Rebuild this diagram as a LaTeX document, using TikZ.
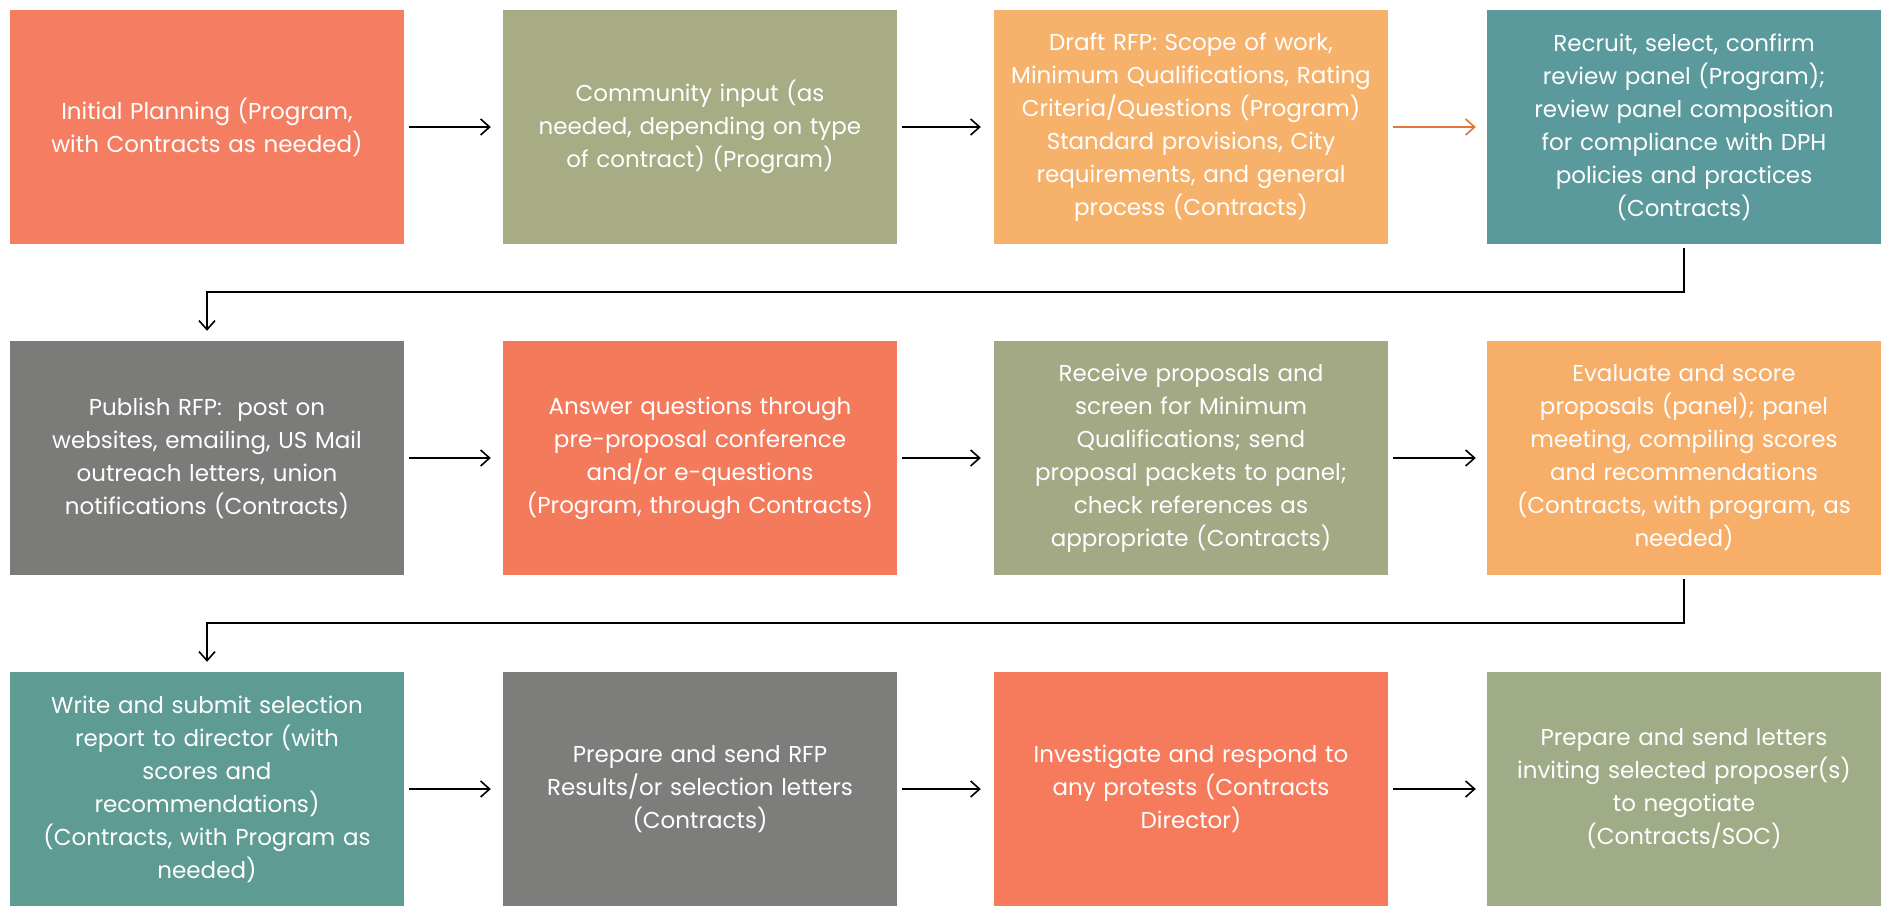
\documentclass[tikz,border=0pt]{standalone}
\usepackage{fontspec}
\setmainfont{Poppins}
\usetikzlibrary{arrows.meta}
\definecolor{cA}{HTML}{F57E62}
\definecolor{cB}{HTML}{A7AC85}
\definecolor{cC}{HTML}{F6B16B}
\definecolor{cD}{HTML}{5B9A9C}
\definecolor{cE}{HTML}{7B7B79}
\definecolor{cF}{HTML}{F47A5C}
\definecolor{cG}{HTML}{A4A985}
\definecolor{cH}{HTML}{F6AE68}
\definecolor{cI}{HTML}{5E9C93}
\definecolor{cJ}{HTML}{7D7D7B}
\definecolor{cK}{HTML}{F67B5D}
\definecolor{cL}{HTML}{A0AC87}
\definecolor{arrOrange}{HTML}{E0763A}
\tikzset{
  stepbox/.style={rectangle, minimum width=394pt, minimum height=234pt, inner sep=0pt,
    text=white, align=center, text width=392pt,
    font=\fontsize{23}{33}\selectfont},
  flow/.style={draw=black, line width=1.6pt, -{Straight Barb[length=9pt,width=16pt,line width=1.6pt]}},
}
\begin{document}
\begin{tikzpicture}[x=1pt,y=-1pt]
\useasboundingbox (0,0) rectangle (1887,906);
\fill[white] (0,0) rectangle (1887,906);
% row 1
\node[stepbox, fill=cA] (b1) at (207,127) {Initial Planning (Program,\\with Contracts as needed)};
\node[stepbox, fill=cB] (b2) at (700,127) {Community input (as\\needed, depending on type\\of contract) (Program)};
\node[stepbox, fill=cC] (b3) at (1191,127) {Draft RFP: Scope of work,\\Minimum Qualifications, Rating\\Criteria/Questions (Program)\\Standard provisions, City\\requirements, and general\\process (Contracts)};
\node[stepbox, fill=cD] (b4) at (1684,127) {Recruit, select, confirm\\review panel (Program);\\review panel composition\\for compliance with DPH\\policies and practices\\(Contracts)};
% row 2
\node[stepbox, fill=cE] (b5) at (207,458) {Publish RFP:\ \ post on\\websites, emailing, US Mail\\outreach letters, union\\notifications (Contracts)};
\node[stepbox, fill=cF] (b6) at (700,458) {Answer questions through\\pre-proposal conference\\and/or e-questions\\(Program, through Contracts)};
\node[stepbox, fill=cG] (b7) at (1191,458) {Receive proposals and\\screen for Minimum\\Qualifications; send\\proposal packets to panel;\\check references as\\appropriate (Contracts)};
\node[stepbox, fill=cH] (b8) at (1684,458) {Evaluate and score\\proposals (panel); panel\\meeting, compiling scores\\and recommendations\\(Contracts, with program, as\\needed)};
% row 3
\node[stepbox, fill=cI] (b9) at (207,789) {Write and submit selection\\report to director (with\\scores and\\recommendations)\\(Contracts, with Program as\\needed)};
\node[stepbox, fill=cJ] (b10) at (700,789) {Prepare and send RFP\\Results/or selection letters\\(Contracts)};
\node[stepbox, fill=cK] (b11) at (1191,789) {Investigate and respond to\\any protests (Contracts\\Director)};
\node[stepbox, fill=cL] (b12) at (1684,789) {Prepare and send letters\\inviting selected proposer(s)\\to negotiate\\(Contracts/SOC)};
% connectors
\draw[flow, shorten <=5pt, shorten >=12pt] (b1.east) -- (b2.west);
\draw[flow, shorten <=5pt, shorten >=13pt] (b2.east) -- (b3.west);
\draw[flow, draw=arrOrange, shorten <=5pt, shorten >=11pt] (b3.east) -- (b4.west);
\coordinate (k1) at (1684,292);
\coordinate (k2) at (207,292);
\draw[flow, shorten <=4pt, shorten >=10pt] (b4.south) -- (k1) -- (k2) -- (b5.north);
\draw[flow, shorten <=5pt, shorten >=12pt] (b5.east) -- (b6.west);
\draw[flow, shorten <=5pt, shorten >=13pt] (b6.east) -- (b7.west);
\draw[flow, shorten <=5pt, shorten >=11pt] (b7.east) -- (b8.west);
\coordinate (k3) at (1684,623);
\coordinate (k4) at (207,623);
\draw[flow, shorten <=4pt, shorten >=10pt] (b8.south) -- (k3) -- (k4) -- (b9.north);
\draw[flow, shorten <=5pt, shorten >=12pt] (b9.east) -- (b10.west);
\draw[flow, shorten <=5pt, shorten >=13pt] (b10.east) -- (b11.west);
\draw[flow, shorten <=5pt, shorten >=11pt] (b11.east) -- (b12.west);
\end{tikzpicture}
\end{document}
